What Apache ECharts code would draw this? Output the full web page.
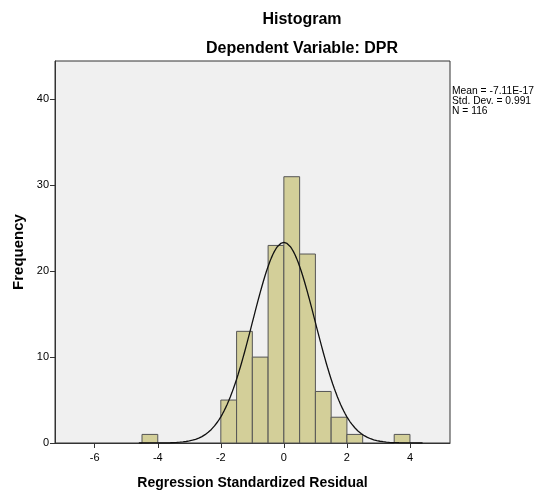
<!DOCTYPE html>
<html>
<head>
<meta charset="utf-8">
<script src="https://cdn.jsdelivr.net/npm/echarts@6/dist/echarts.min.js"></script>
<style>html,body{margin:0;padding:0;background:#fff}#c{width:536px;height:490px}</style>
</head>
<body>
<div id="c"></div>
<script>
// Histogram bins (lower edge, upper edge) and frequencies
var binStarts = [-4.5, -2.0, -1.5, -1.0, -0.5, 0.0, 0.5, 1.0, 1.5, 2.0, 3.5];
var binEnds   = [-4.0, -1.5, -1.0, -0.5, 0.0, 0.5, 1.0, 1.5, 2.0, 2.5, 4.0];
var frequencies = [1, 5, 13, 10, 23, 31, 22, 6, 3, 1, 1];
var xTicks = [-6, -4, -2, 0, 2, 4];
var yTicks = [0, 10, 20, 30, 40];
var statLines = ['Mean = -7.11E-17', 'Std. Dev. = 0.991', 'N = 116'];
var meanVal = -7.11e-17, sdVal = 0.991, nVal = 116, binWidth = 0.5;

var barData = binStarts.map(function (s, i) { return [s, binEnds[i], frequencies[i]]; });

// fitted normal curve from stated mean / sd / N
var curve = [];
for (var k = 0; k <= 180; k++) {
  var x = -4.6 + k * 0.05;
  var z = (x - meanVal) / sdVal;
  curve.push([x, nVal * binWidth / (sdVal * Math.sqrt(2 * Math.PI)) * Math.exp(-0.5 * z * z)]);
}

var chart = echarts.init(document.getElementById('c'), null, {renderer: 'canvas'});
var font = 'Liberation Sans, Arial, sans-serif';
chart.setOption({
  animation: false,
  title: [
    {text: 'Histogram', left: 297, top: 7, textAlign: 'center',
     textStyle: {fontFamily: font, fontSize: 16, fontWeight: 'bold', color: '#000'}},
    {text: 'Dependent Variable: DPR', left: 297, top: 36, textAlign: 'center',
     textStyle: {fontFamily: font, fontSize: 16, fontWeight: 'bold', color: '#000'}}
  ],
  grid: {left: 55, right: 86, top: 61, bottom: 47, show: true, containLabel: false,
         outerBoundsMode: 'none',
         backgroundColor: '#F0F0F0', borderColor: '#333', borderWidth: 1},
  xAxis: {
    type: 'value', min: -7.26, max: 5.27,
    name: 'Regression Standardized Residual', nameLocation: 'middle', nameGap: 33,
    nameTextStyle: {fontFamily: font, fontSize: 14, fontWeight: 'bold', color: '#000'},
    splitLine: {show: false},
    axisLine: {show: true, onZero: false, lineStyle: {color: '#333', width: 1}},
    axisTick: {show: true, length: 5, customValues: xTicks, lineStyle: {color: '#333'}},
    axisLabel: {customValues: xTicks, margin: 9, fontFamily: font, fontSize: 11, color: '#000'}
  },
  yAxis: {
    type: 'value', min: 0, max: 44.47,
    name: 'Frequency', nameLocation: 'middle', nameGap: 25,
    nameTextStyle: {fontFamily: font, fontSize: 15, fontWeight: 'bold', color: '#000'},
    splitLine: {show: false},
    axisLine: {show: true, onZero: false, lineStyle: {color: '#333', width: 1}},
    axisTick: {show: true, length: 5, customValues: yTicks, lineStyle: {color: '#333'}},
    axisLabel: {customValues: yTicks, margin: 6, fontFamily: font, fontSize: 11, color: '#000'}
  },
  series: [
    {
      type: 'custom',
      data: barData,
      renderItem: function (params, api) {
        var p0 = api.coord([api.value(0), api.value(2)]);
        var p1 = api.coord([api.value(1), 0]);
        return {
          type: 'rect',
          shape: {x: p0[0], y: p0[1], width: p1[0] - p0[0], height: p1[1] - p0[1]},
          style: {fill: '#D3CF99', stroke: '#555', lineWidth: 1}
        };
      },
      z: 2
    },
    {
      type: 'line', data: curve, showSymbol: false, smooth: false,
      lineStyle: {color: '#111', width: 1.3}, z: 3
    }
  ],
  graphic: [
    {type: 'text', left: 452, top: 86,
     style: {text: statLines.join('\n'), font: '10.3px ' + font, fill: '#000', lineHeight: 10}}
  ]
});
</script>
</body>
</html>
